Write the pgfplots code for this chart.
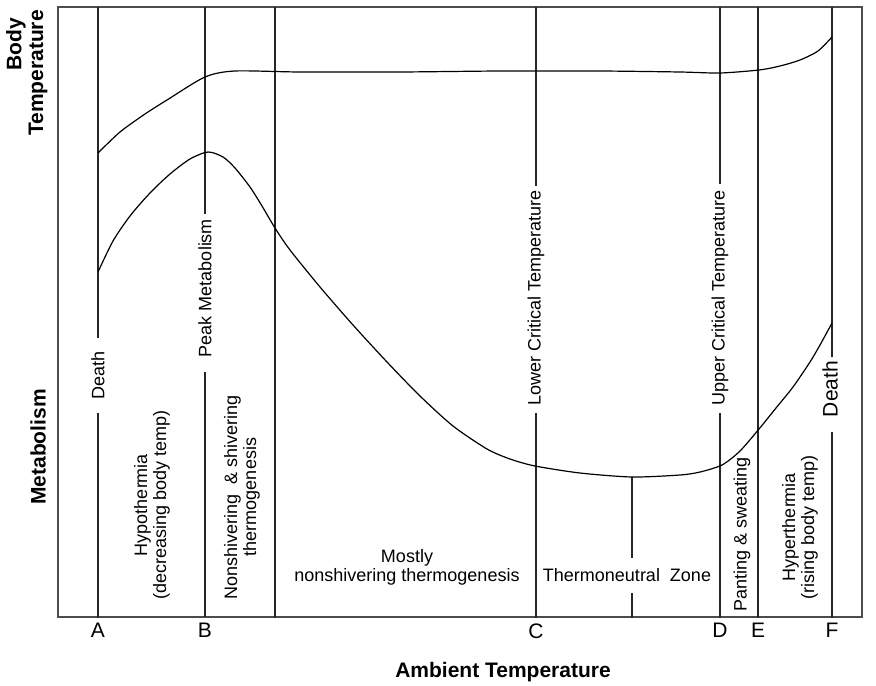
\documentclass[border=0pt]{standalone}
\usepackage{fontspec}
\setmainfont{Liberation Sans}
\usepackage{pgfplots}
\pgfplotsset{compat=1.18}
\begin{document}
\begin{tikzpicture}[
  zone/.style={line width=2.2pt, dash pattern=on 0.5pt off 0.2pt, black!85, mark=none},
  curve/.style={black, line width=1.2pt, smooth, tension=0.45, mark=none},
  lab/.style={font=\fontsize{18}{19}\selectfont, inner sep=0pt, align=center}]
\begin{axis}[
  scale only axis, width=804pt, height=610pt,
  xmin=58, xmax=862, ymin=7, ymax=617, y dir=reverse,
  axis line style={line width=1.4pt, black!70},
  xtick={98,205,536,720,758,832}, xticklabels={A,B,C,D,E,F},
  ytick=\empty, major tick length=0pt,
  xticklabel style={font=\fontsize{21}{24}\selectfont, yshift=-3pt},
  clip=false]
% zone boundaries (gaps where the labels sit)
\addplot[zone] coordinates {(98,7) (98,338)};
\addplot[zone] coordinates {(98,413) (98,617)};
\addplot[zone] coordinates {(205,7) (205,213)};
\addplot[zone] coordinates {(205,372) (205,617)};
\addplot[zone] coordinates {(275,7) (275,617)};
\addplot[zone] coordinates {(536,7) (536,185)};
\addplot[zone] coordinates {(536,413) (536,617)};
\addplot[zone] coordinates {(632,477) (632,557)};
\addplot[zone] coordinates {(632,593) (632,617)};
\addplot[zone] coordinates {(720,7) (720,183)};
\addplot[zone] coordinates {(720,413) (720,617)};
\addplot[zone] coordinates {(758,7) (758,617)};
\addplot[zone] coordinates {(832,7) (832,357)};
\addplot[zone] coordinates {(832,432) (832,617)};
% body temperature
\addplot[curve] coordinates {(98,153) (120,132) (145,114) (167,100) (205,77) (235,71) (300,72) (400,72) (500,71) (600,71) (680,72) (720,73) (759,70) (780,66) (800,60) (818,51) (832,37)};
% metabolism
\addplot[curve] coordinates {(98,272) (113,241) (130,216) (150,193) (170,174) (190,159) (208,152) (223,157) (235,168) (250,187) (262,206) (275,228) (290,250) (320,287) (353,325) (387,362) (420,396) (453,426) (487,449) (510,459) (535,466) (580,473) (632,477) (680,475) (700,472) (722,465) (740,451) (759,429) (776,408) (793,387) (810,362) (820,345) (832,323)};
% labels
\node[lab, rotate=90] at (axis cs:98,375) {Death};
\node[lab, rotate=90] at (axis cs:205,288) {Peak Metabolism};
\node[lab, rotate=90] at (axis cs:152,505) {Hypothermia\\(decreasing body temp)};
\node[lab, rotate=90] at (axis cs:242,497) {Nonshivering \ \& shivering\\thermogenesis};
\node[lab, rotate=90] at (axis cs:536,298) {Lower Critical Temperature};
\node[lab, rotate=90] at (axis cs:720,298) {Upper Critical Temperature};
\node[lab] at (axis cs:407,567) {Mostly\\nonshivering thermogenesis};
\node[lab] at (axis cs:627,575) {Thermoneutral \ Zone};
\node[lab, rotate=90] at (axis cs:742,534) {Panting \& sweating};
\node[lab, rotate=90] at (axis cs:800,527) {Hyperthermia\\(rising body temp)};
\node[lab, rotate=90, font=\fontsize{21}{22}\selectfont] at (axis cs:830,389) {Death};
\node[font=\fontsize{21}{22}\selectfont\bfseries] at (axis cs:503,672) {Ambient Temperature};
\node[font=\fontsize{21}{22}\selectfont\bfseries, rotate=90] at (axis cs:16,44) {Body};
\node[font=\fontsize{21}{22}\selectfont\bfseries, rotate=90] at (axis cs:38,73) {Temperature};
\node[font=\fontsize{21}{22}\selectfont\bfseries, rotate=90] at (axis cs:38,447) {Metabolism};
\path (axis cs:0,0) rectangle (axis cs:876,682);
\end{axis}
\end{tikzpicture}
\end{document}
